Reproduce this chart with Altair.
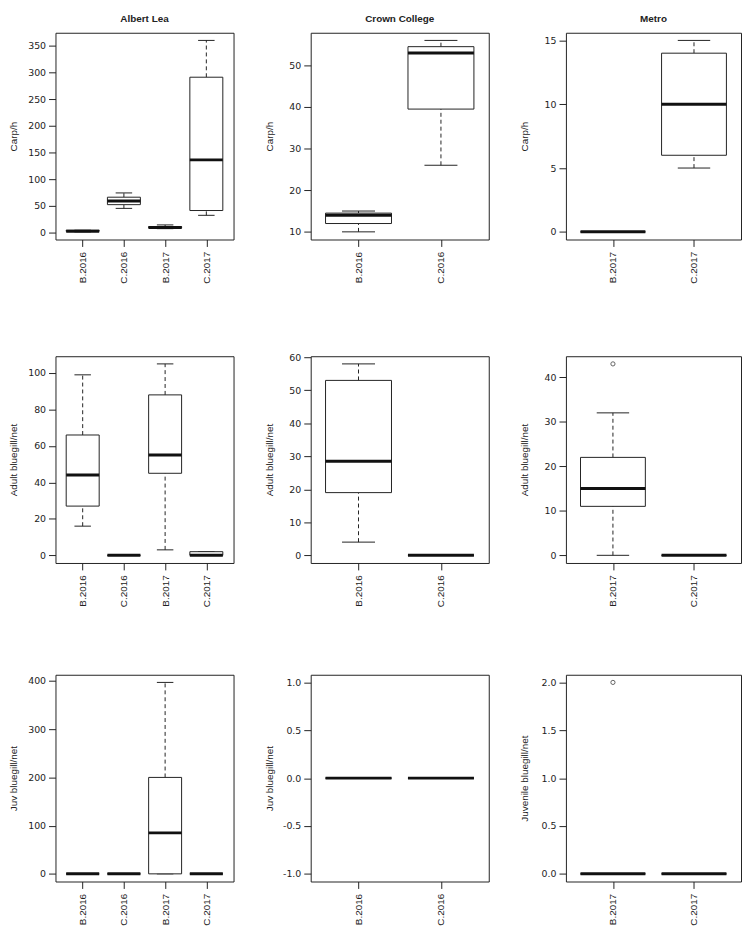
import altair as alt
import pandas as pd

# ---------------- data ----------------
groups_albert_lea = ["B.2016", "C.2016", "B.2017", "C.2017"]
groups_crown_college = ["B.2016", "C.2016"]
groups_metro = ["B.2017", "C.2017"]

# five-number summaries: (min whisker, Q1, median, Q3, max whisker)
carp_albert_lea = [(1, 2, 2, 4, 4), (45, 52, 59, 66, 74), (7, 8, 9, 11, 14), (32, 41, 136, 291, 360)]
carp_crown_college = [(10, 12, 14, 14.5, 15), (26, 39.5, 53, 54.5, 56)]
carp_metro = [(0, 0, 0, 0, 0), (5, 6, 10, 14, 15)]

adult_albert_lea = [(16, 27, 44, 66, 99), (0, 0, 0, 0, 0), (3, 45, 55, 88, 105), (0, 0, 0, 2, 2)]
adult_crown_college = [(4, 19, 28.5, 53, 58), (0, 0, 0, 0, 0)]
adult_metro = [(0, 11, 15, 22, 32), (0, 0, 0, 0, 0)]
adult_metro_outliers = [("B.2017", 43)]

juv_albert_lea = [(0, 0, 0, 0, 0), (0, 0, 0, 0, 0), (0, 0, 85, 200, 397), (0, 0, 0, 0, 0)]
juv_crown_college = [(0, 0, 0, 0, 0), (0, 0, 0, 0, 0)]
juv_metro = [(0, 0, 0, 0, 0), (0, 0, 0, 0, 0)]
juv_metro_outliers = [("B.2017", 2)]

# axis tick values
ticks_carp_al = [0, 50, 100, 150, 200, 250, 300, 350]
ticks_carp_cc = [10, 20, 30, 40, 50]
ticks_carp_m = [0, 5, 10, 15]
ticks_adult_al = [0, 20, 40, 60, 80, 100]
ticks_adult_cc = [0, 10, 20, 30, 40, 50, 60]
ticks_adult_m = [0, 10, 20, 30, 40]
ticks_juv_al = [0, 100, 200, 300, 400]
ticks_juv_cc = [-1.0, -0.5, 0.0, 0.5, 1.0]
ticks_juv_m = [0.0, 0.5, 1.0, 1.5, 2.0]

site_titles = ["Albert Lea", "Crown College", "Metro"]

# ---------------- style ----------------
H = 209
LINE = "#222222"
MED = "#111111"
TXT = "#222222"
SANS = "Liberation Sans"
WIDE = "DejaVu Sans"


def panel(groups, stats, outliers, ticks, ytitle, title=None, dec=False, width=180):
    n = len(groups)
    rows = []
    for i, (g, s) in enumerate(zip(groups, stats)):
        rows.append(dict(group=g, pos=i + 1, mn=s[0], q1=s[1], med=s[2], q3=s[3], mx=s[4]))
    df = pd.DataFrame(rows)
    vals = [v for s in stats for v in s] + [v for _, v in outliers]
    lo, hi = min(vals), max(vals)
    if lo == hi:
        lo -= 1
        hi += 1
    pad = 0.04 * (hi - lo)
    ydom = [lo - pad, hi + pad]
    xdom = [0.5 - 0.04 * n, n + 0.5 + 0.04 * n]

    label_js = "[" + ",".join("'%s'" % g for g in groups) + "][datum.value - 1]"
    xaxis = alt.Axis(values=list(range(1, n + 1)), labelExpr=label_js, labelAngle=270,
                     tickSize=7, labelPadding=5, domain=False, grid=False,
                     labelFont=SANS, labelFontSize=10, labelColor=TXT, tickColor=LINE,
                     labelFlush=False)
    ykw = dict(values=ticks, tickSize=7, labelPadding=3, domain=False, grid=False,
               titleX=-42, titleY=H / 2, titleAngle=270, titleAlign="center",
               titleBaseline="middle", titleFont=SANS, titleFontSize=10,
               titleFontWeight="normal", titleColor=TXT,
               labelFont=WIDE, labelFontSize=9.5, labelColor=TXT, tickColor=LINE)
    if dec:
        ykw["labelExpr"] = "replace(format(datum.value, '.1f'), '\u2212', '-')"
    yaxis = alt.Axis(**ykw)

    xs = alt.Scale(domain=xdom, nice=False, zero=False)
    ys = alt.Scale(domain=ydom, nice=False, zero=False)

    def X(f):
        return alt.X(f + ":Q", scale=xs, axis=xaxis, title=None)

    def Y(f):
        return alt.Y(f + ":Q", scale=ys, axis=yaxis, title=ytitle)

    base = alt.Chart(df).transform_calculate(
        bl="datum.pos - 0.4", br="datum.pos + 0.4",
        cl="datum.pos - 0.2", cr="datum.pos + 0.2")

    wl = base.mark_rule(color=LINE, strokeWidth=1, strokeDash=[4, 3]).encode(
        x=X("pos"), y=Y("mn"), y2="q1:Q")
    wu = base.mark_rule(color=LINE, strokeWidth=1, strokeDash=[4, 3]).encode(
        x=X("pos"), y=Y("q3"), y2="mx:Q")
    cap_lo = base.mark_rule(color=LINE, strokeWidth=1).encode(x=X("cl"), x2="cr:Q", y=Y("mn"))
    cap_hi = base.mark_rule(color=LINE, strokeWidth=1).encode(x=X("cl"), x2="cr:Q", y=Y("mx"))
    box = base.mark_rect(fill="white", stroke=LINE, strokeWidth=1).encode(
        x=X("bl"), x2="br:Q", y=Y("q1"), y2="q3:Q")
    med = base.mark_rule(color=MED, strokeWidth=3).encode(x=X("bl"), x2="br:Q", y=Y("med"))
    layers = [wl, wu, cap_lo, cap_hi, box, med]
    if outliers:
        odf = pd.DataFrame({"pos": [groups.index(g) + 1 for g, _ in outliers],
                            "val": [v for _, v in outliers]})
        pts = alt.Chart(odf).mark_point(shape="circle", filled=False, size=18,
                                        color=LINE, strokeWidth=1).encode(
            x=X("pos"), y=Y("val"))
        layers.append(pts)
    ch = alt.layer(*layers).properties(width=width, height=H)
    if title:
        ch = ch.properties(title=alt.TitleParams(
            text=title, font=SANS, fontSize=10, fontWeight="bold", color=TXT,
            anchor="middle", frame="group", offset=9))
    return ch


row1 = alt.hconcat(
    panel(groups_albert_lea, carp_albert_lea, [], ticks_carp_al, "Carp/h", site_titles[0]),
    panel(groups_crown_college, carp_crown_college, [], ticks_carp_cc, "Carp/h", site_titles[1]),
    panel(groups_metro, carp_metro, [], ticks_carp_m, "Carp/h", site_titles[2], width=177),
    spacing=29)
row2 = alt.hconcat(
    panel(groups_albert_lea, adult_albert_lea, [], ticks_adult_al, "Adult bluegill/net"),
    panel(groups_crown_college, adult_crown_college, [], ticks_adult_cc, "Adult bluegill/net"),
    panel(groups_metro, adult_metro, adult_metro_outliers, ticks_adult_m, "Adult bluegill/net", width=177),
    spacing=29)
row3 = alt.hconcat(
    panel(groups_albert_lea, juv_albert_lea, [], ticks_juv_al, "Juv bluegill/net"),
    panel(groups_crown_college, juv_crown_college, [], ticks_juv_cc, "Juv bluegill/net", dec=True),
    panel(groups_metro, juv_metro, juv_metro_outliers, ticks_juv_m, "Juvenile bluegill/net", dec=True, width=177),
    spacing=29)

chart = alt.vconcat(row1, alt.vconcat(row2, row3, spacing=67), spacing=68).properties(
    padding=0, background="white"
).configure_view(stroke=LINE, strokeWidth=1)

chart.save("out.html", embed_options={"renderer": "svg", "actions": False})
